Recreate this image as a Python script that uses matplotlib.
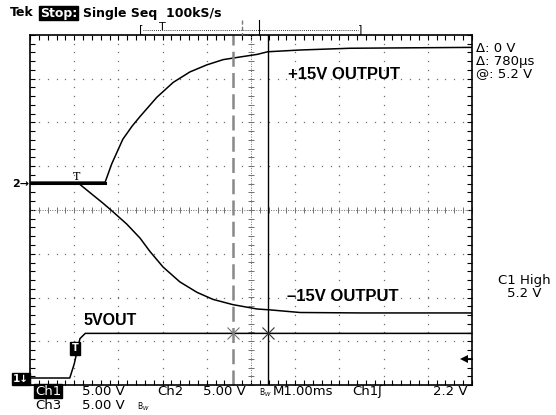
import numpy as np
import matplotlib.pyplot as plt
from matplotlib.ticker import MultipleLocator

# time in ms from left edge of screen, voltages in V
t_pos = [0, 1.70, 1.85, 2.10, 2.31, 2.49, 2.87, 3.24, 3.62, 4.00, 4.37, 4.75, 5.14, 5.38, 6.11, 7.24, 10.0]
v_pos = [0.1, 0.1, 2.2, 5.0, 6.5, 7.6, 9.8, 11.5, 12.7, 13.5, 14.1, 14.4, 14.7, 15.0, 15.2, 15.4, 15.5]

t_neg = [0, 1.09, 1.43, 1.65, 1.88, 2.19, 2.49, 2.71, 3.01, 3.39, 3.78, 4.14, 4.59, 5.14, 5.43, 6.11, 7.5, 10.0]
v_neg = [0, 0, -1.4, -2.3, -3.3, -4.7, -6.3, -7.8, -9.6, -11.3, -12.5, -13.3, -13.9, -14.4, -14.5, -14.8, -14.85, -14.85]

t_5v = [0, 0.90, 1.00, 1.13, 1.25, 10.0]
v_5v = [0, 0, 1.6, 4.5, 5.1, 5.1]

volts_per_div = 5.0
ch1_offset = -3.84   # divisions
ch2_offset = 0.617
ch3_offset = 0.617
trig_level = 2.2
cursor_a = 4.60
cursor_delta = 0.78
cursor_level = 5.2

W, H = 556, 415


def fx(x):
    return x / W


def fy(y):
    return 1 - y / H


fig = plt.figure(figsize=(W / 100, H / 100), dpi=100)
fig.patch.set_facecolor('white')
ax = fig.add_axes([30 / W, 30 / H, 442 / W, 350 / H])
ax.set_xlim(0, 10)
ax.set_ylim(-4, 4)

# graticule
dot_c = '#707070'
minor = np.arange(0, 10.001, 0.2)
minor_y = np.arange(-4, 4.001, 0.2)
for k in range(1, 10):
    if k == 5:
        continue
    ax.plot(np.full_like(minor_y, k), minor_y, ls='none', marker='s', ms=0.9, color=dot_c, mew=0)
for k in range(-3, 4):
    if k == 0:
        continue
    ax.plot(minor, np.full_like(minor, k), ls='none', marker='s', ms=0.9, color=dot_c, mew=0)
ax.axhline(0, color=dot_c, lw=0.7, ls=(0, (1, 1.5)))
ax.axvline(5, color=dot_c, lw=0.7, ls=(0, (1, 1.5)))
ax.plot(minor, np.zeros_like(minor), ls='none', marker='|', ms=5, mew=0.7, color=dot_c)
ax.plot(np.full_like(minor_y, 5), minor_y, ls='none', marker='_', ms=5, mew=0.7, color=dot_c)

ax.xaxis.set_major_locator(MultipleLocator(1))
ax.xaxis.set_minor_locator(MultipleLocator(0.2))
ax.yaxis.set_major_locator(MultipleLocator(1))
ax.yaxis.set_minor_locator(MultipleLocator(0.2))
ax.tick_params(which='both', direction='in', length=3.5, width=0.8,
               top=True, right=True, labelbottom=False, labelleft=False)
for s in ax.spines.values():
    s.set_linewidth(1.2)

# traces
ax.plot(t_pos, ch2_offset + np.array(v_pos) / volts_per_div, color='black', lw=1.1)
ax.plot(t_neg, ch3_offset + np.array(v_neg) / volts_per_div, color='black', lw=1.1)
ax.plot(t_5v, ch1_offset + np.array(v_5v) / volts_per_div, color='black', lw=1.1)
ax.plot([0, 1.7], [ch2_offset, ch2_offset], color='black', lw=2.2)

# cursors
ax.axvline(cursor_a, color='#888888', lw=1.8, ls=(0, (6, 2.5)))
ax.axvline(cursor_a + cursor_delta, color='black', lw=1.0)
ycur = ch1_offset + cursor_level / volts_per_div
ax.plot([cursor_a], [ycur], marker='x', ms=8, mew=0.8, color='#777777')
ax.plot([cursor_a + cursor_delta], [ycur], marker='x', ms=8, mew=0.8, color='#333333')

# labels on screen
ax.text(5.84, 3.1, '+15V OUTPUT', fontsize=12, fontweight='bold',
        family='Liberation Sans', va='center')
ax.text(5.82, -1.98, '\u201315V OUTPUT', fontsize=12, fontweight='bold',
        family='Liberation Sans', va='center')
ax.text(1.2, -2.52, '5VOUT', fontsize=11.5, fontweight='bold',
        family='Liberation Sans', va='center')
ax.text(1.05, ch2_offset + 0.02, 'T', fontsize=8, family='DejaVu Serif',
        ha='center', va='bottom')
ax.text(1.02, -3.16, 'T', fontsize=7, color='white', fontweight='bold',
        ha='center', va='center',
        bbox=dict(boxstyle='square,pad=0.15', fc='black', ec='black'))
ytrig = ch1_offset + trig_level / volts_per_div
ax.plot([9.8, 10.0], [ytrig, ytrig], color='black', lw=1.3, clip_on=False)
ax.plot([9.82], [ytrig], marker='<', ms=6, color='black', mew=0)

# channel markers left of screen
fig.text(fx(12), fy(184), '2\u2192', fontsize=8, fontweight='bold', va='center')
fig.text(fx(13), fy(379), '1\u2193', fontsize=7.5, fontweight='bold', va='center',
         color='white', bbox=dict(boxstyle='square,pad=0.1', fc='black', ec='black'))

# header
fig.text(fx(10), fy(13), 'Tek', fontsize=9, fontweight='bold', va='center')
fig.text(fx(40), fy(13), 'Stop:', fontsize=9, fontweight='bold', va='center', color='white',
         bbox=dict(boxstyle='square,pad=0.05', fc='black', ec='black'))
fig.text(fx(83), fy(13), 'Single Seq  100kS/s', fontsize=9, fontweight='bold', va='center')

# record view bar
fig.text(fx(139), fy(29), '[', fontsize=8, va='center')
fig.text(fx(358), fy(29), ']', fontsize=8, va='center')
fig.text(fx(162), fy(27), 'T', fontsize=8, va='center', ha='center')
fig.add_artist(plt.Line2D([fx(143), fx(358)], [fy(30), fy(30)], color='black', lw=0.6, ls=(0, (1, 1.5))))
fig.add_artist(plt.Line2D([fx(242), fx(242)], [fy(20), fy(35)], color='#777777', lw=1, ls=(0, (3, 1.5))))
fig.add_artist(plt.Line2D([fx(259), fx(259)], [fy(20), fy(35)], color='black', lw=0.8))

# cursor readout
fig.text(fx(476), fy(61), '\u0394: 0 V\n\u0394: 780\u00b5s\n@: 5.2 V', fontsize=9.5,
         va='center', linespacing=0.95)
fig.text(fx(524), fy(287), 'C1 High\n5.2 V', fontsize=9.5, va='center', ha='center',
         linespacing=0.95)

# bottom status
fig.text(fx(35), fy(391), 'Ch1', fontsize=9.5, va='center', color='white',
         bbox=dict(boxstyle='square,pad=0.05', fc='black', ec='black'))
fig.text(fx(82), fy(391), '5.00 V', fontsize=9.5, va='center')
fig.text(fx(157), fy(391), 'Ch2', fontsize=9.5, va='center')
fig.text(fx(203), fy(391), '5.00 V', fontsize=9.5, va='center')
fig.text(fx(259), fy(393), 'B$_W$', fontsize=5.5, va='center')
fig.text(fx(273), fy(391), 'M1.00ms', fontsize=9.5, va='center')
fig.text(fx(352), fy(391), 'Ch1', fontsize=9.5, va='center')
fig.text(fx(377), fy(391), '\u0283', fontsize=9.5, va='center')
fig.text(fx(433), fy(391), '2.2 V', fontsize=9.5, va='center')
fig.text(fx(35), fy(405), 'Ch3', fontsize=9.5, va='center')
fig.text(fx(82), fy(405), '5.00 V', fontsize=9.5, va='center')
fig.text(fx(137), fy(407), 'B$_W$', fontsize=5.5, va='center')

fig.savefig('out.png', dpi=100)
